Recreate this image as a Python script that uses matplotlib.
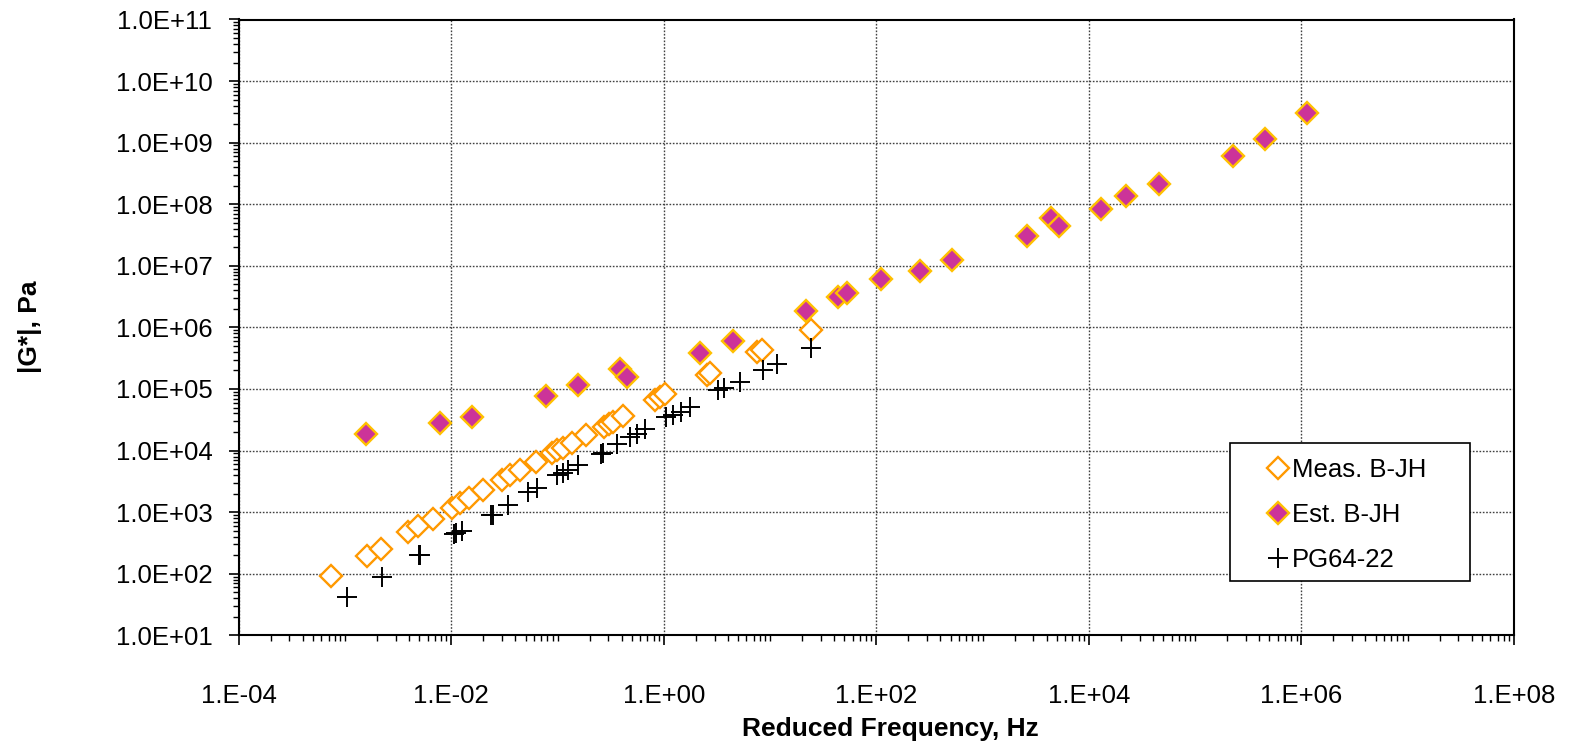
import matplotlib
matplotlib.use("Agg")
import matplotlib.pyplot as plt
from matplotlib.ticker import LogLocator, FuncFormatter, NullFormatter
from matplotlib.patches import Rectangle

plt.rcParams['font.family'] = ['Liberation Sans', 'DejaVu Sans']

# Measured B-JH
meas_freq = [7.35e-4, 1.62e-3, 2.18e-3, 3.94e-3, 4.90e-3, 6.68e-3, 1.01e-2, 1.21e-2,
             1.48e-2, 1.97e-2, 2.98e-2, 3.56e-2, 4.43e-2, 6.22e-2, 8.79e-2, 9.79e-2,
             0.113, 0.136, 0.185, 0.274, 0.306, 0.334, 0.409, 0.824, 0.918, 1.02,
             2.53, 2.72, 7.46, 8.32, 24.5]
meas_g = [91.8, 196, 255, 476, 596, 766, 1153, 1390, 1679, 2291, 3327, 4009, 4831,
          6592, 9016, 10210, 11120, 13430, 17910, 23880, 26730, 29440, 36390,
          66220, 73280, 82790, 168700, 179500, 403600, 429500, 907800]

# Estimated B-JH
est_freq = [1.57e-3, 7.83e-3, 1.56e-2, 7.78e-2, 0.157, 0.386, 0.447, 2.19, 4.44, 22.0,
            43.8, 52.5, 110, 256, 516, 2588, 4446, 5212, 12940, 22540, 45500,
            227500, 458100, 1.13e6]
est_g = [18370, 28310, 34670, 76910, 116100, 208900, 154900, 388200, 608100, 1.866e6,
         3.155e6, 3.581e6, 6.109e6, 8.241e6, 1.242e7, 3.048e7, 5.902e7, 4.487e7,
         8.375e7, 1.361e8, 2.109e8, 6.152e8, 1.132e9, 2.999e9]

# PG64-22
pg_freq = [1.04e-3, 2.21e-3, 4.95e-3, 5.05e-3, 1.06e-2, 1.11e-2, 1.25e-2, 2.37e-2, 2.45e-2,
           3.44e-2, 5.30e-2, 6.35e-2, 9.82e-2, 0.113, 0.126, 0.157, 0.257, 0.266, 0.360,
           0.480, 0.555, 0.664, 1.06, 1.23, 1.45, 1.78, 3.24, 3.72, 5.25, 8.61, 11.5, 24.5]
pg_g = [42.4, 89.5, 199, 203, 447, 457, 500, 891, 912, 1306, 2148, 2438, 4009, 4375,
        4831, 5834, 8913, 9120, 12790, 16410, 18580, 22130, 34670, 37150, 41690, 50120,
        95500, 102300, 131800, 203200, 251200, 457100]

labels = ["Meas. B-JH", "Est. B-JH", "PG64-22"]

W, H = 1577, 748
fig = plt.figure(figsize=(W / 100, H / 100), dpi=100)
L, R, T, B = 238.7, 1514, 19.5, 635.3
ax = fig.add_axes([L / W, 1 - B / H, (R - L) / W, (B - T) / H])

fs = 18.5
ax.plot(meas_freq, meas_g, linestyle='none', marker='D', ms=11.5, mfc='white',
        mec='#FF9900', mew=1.7, label=labels[0], zorder=3)
ax.plot(est_freq, est_g, linestyle='none', marker='D', ms=11.5, mfc='#CC3399',
        mec='#FFC000', mew=1.7, label=labels[1], zorder=4)
ax.plot(pg_freq, pg_g, linestyle='none', marker='+', ms=15, mec='black',
        mew=1.4, label=labels[2], zorder=5)

ax.set_xscale('log')
ax.set_yscale('log')
ax.set_xlim(1e-4, 1e8)
ax.set_ylim(1e1, 1e11)

ax.xaxis.set_major_locator(LogLocator(base=100, numticks=20))
ax.xaxis.set_minor_locator(LogLocator(base=10, subs=[1, 2, 3, 4, 5, 6, 7, 8, 9], numticks=40))
ax.yaxis.set_major_locator(LogLocator(base=10, numticks=20))
ax.yaxis.set_minor_locator(LogLocator(base=10, subs=[2, 3, 4, 5, 6, 7, 8, 9], numticks=40))
ax.xaxis.set_major_formatter(FuncFormatter(lambda v, p: f"{v:#.0E}"))
ax.yaxis.set_major_formatter(FuncFormatter(lambda v, p: f"{v:.1E}"))
ax.xaxis.set_minor_formatter(NullFormatter())
ax.yaxis.set_minor_formatter(NullFormatter())

ax.tick_params(axis='both', which='major', direction='out', length=7, width=1.2,
               labelsize=fs, colors='black')
ax.tick_params(axis='both', which='minor', direction='out', length=4, width=1.0)
ax.tick_params(axis='x', which='major', pad=28)
ax.tick_params(axis='y', which='major', pad=12)

ax.grid(True, which='major', linestyle=(0, (1.2, 1.2)), color='#404040', linewidth=1.0)
ax.set_axisbelow(True)
for s in ax.spines.values():
    s.set_linewidth(1.5)
    s.set_color('black')

fig.text(890 / W, 1 - 729 / H, "Reduced Frequency, Hz", fontsize=19, fontweight='bold',
         ha='center', va='center')
fig.text(30 / W, 1 - 327 / H, "|G*|, Pa", fontsize=19, fontweight='bold',
         ha='center', va='center', rotation=90)

# legend box
box = Rectangle((1230 / W, 1 - 581 / H), 240 / W, 138 / H,
                transform=fig.transFigure, facecolor='white',
                edgecolor='black', linewidth=1.2, zorder=6, clip_on=False)
ax.add_patch(box)
leg = ax.legend(loc='upper left', bbox_to_anchor=(1243 / W, 1 - 458 / H),
                bbox_transform=fig.transFigure, frameon=False, fontsize=fs,
                handlelength=2.74, handletextpad=-0.82, borderpad=0, borderaxespad=0,
                labelspacing=0.82, numpoints=1)
leg.set_zorder(10)

fig.savefig("out.png", dpi=100)
